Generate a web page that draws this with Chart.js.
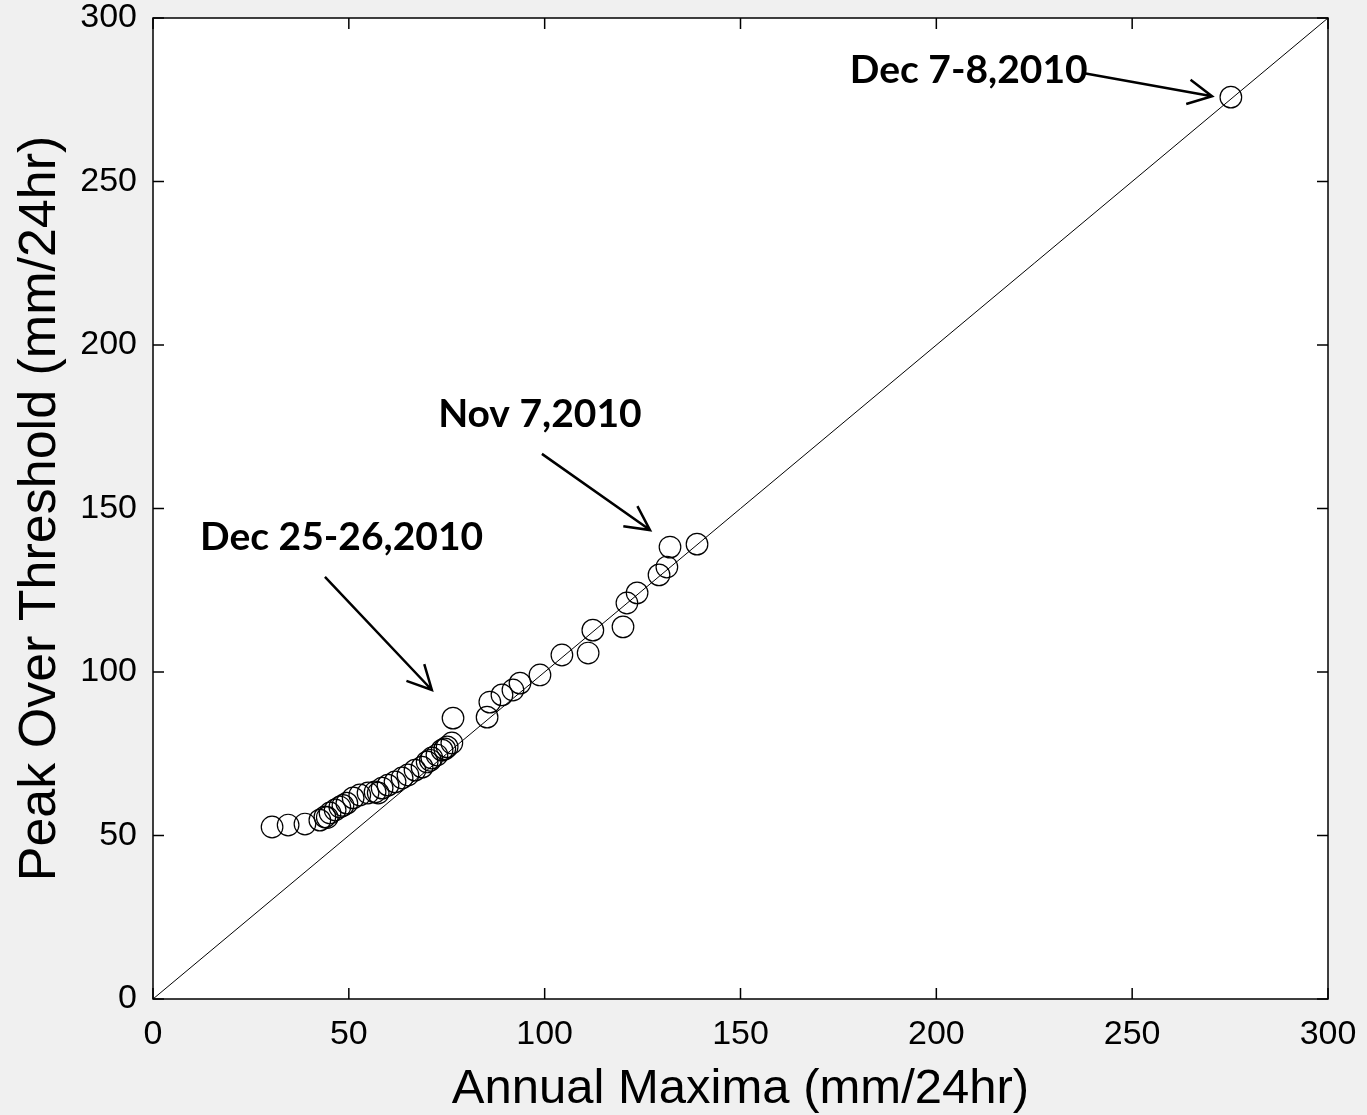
<!DOCTYPE html>
<html>
<head>
<meta charset="utf-8">
<script src="https://cdn.jsdelivr.net/npm/chart.js@4"></script>
<style>
  html, body { margin: 0; padding: 0; background: #f0f0f0; }
  canvas { display: block; }
</style>
</head>
<body>
<canvas id="c" width="1367" height="1115"></canvas>
<script>
// ---- data ----
const annualMaxima = [30.4, 34.5, 38.8, 42.6, 43.9, 44.5, 45.2, 46.5, 47.7, 48.5, 49.5, 51.1, 52.8, 54.9, 56.7, 57.5, 58.5, 60.0, 61.8, 63.6, 65.1, 66.9, 68.7, 70.0, 70.8, 71.2, 72.5, 73.8, 74.5, 75.1, 76.3, 76.6, 85.3, 86.0, 89.1, 91.9, 93.7, 98.8, 104.4, 111.1, 112.3, 120.0, 121.0, 123.6, 129.2, 131.2, 132.0, 138.9, 275.2];
const peakOverThreshold = [52.6, 53.2, 53.5, 54.7, 55.7, 55.5, 56.9, 57.8, 58.7, 59.2, 59.9, 61.5, 62.4, 63.0, 63.3, 63.0, 64.5, 65.4, 66.4, 67.6, 68.5, 70.0, 70.9, 72.5, 73.0, 73.7, 74.6, 76.1, 76.5, 77.1, 78.3, 85.9, 86.2, 90.8, 93.0, 94.5, 96.6, 99.1, 105.2, 105.8, 112.8, 113.8, 121.1, 124.2, 129.7, 132.1, 138.2, 139.1, 275.8];
const lineX = [0, 300];
const lineY = [0, 300];
const xTickValues = [0, 50, 100, 150, 200, 250, 300];
const yTickValues = [0, 50, 100, 150, 200, 250, 300];
const xTitle = 'Annual Maxima (mm/24hr)';
const yTitle = 'Peak Over Threshold (mm/24hr)';
const annotations = [
  { text: 'Dec 7-8,2010', tx: 177.9, ty: 284.1, fx: 237.4, fy: 283.2, ex: 270.4, ey: 276.1 },
  { text: 'Nov 7,2010', tx: 72.8, ty: 178.9, fx: 99.3, fy: 166.7, ex: 126.9, ey: 143.4 },
  { text: 'Dec 25-26,2010', tx: 12.0, ty: 141.3, fx: 43.9, fy: 129.1, ex: 71.2, ey: 94.5 }
];

const points = annualMaxima.map((x, i) => ({ x: x, y: peakOverThreshold[i] }));
const identity = lineX.map((x, i) => ({ x: x, y: lineY[i] }));
const FAMILY = "'Liberation Sans', Arial, sans-serif";

const framePlugin = {
  id: 'frame',
  beforeDraw(chart) {
    const { ctx, chartArea: a } = chart;
    ctx.save();
    ctx.fillStyle = '#f0f0f0';
    ctx.fillRect(0, 0, chart.width, chart.height);
    ctx.fillStyle = '#ffffff';
    ctx.fillRect(a.left, a.top, a.right - a.left, a.bottom - a.top);
    ctx.restore();
  },
  afterDatasetsDraw(chart) {
    const { ctx, chartArea: a, scales } = chart;
    const xs = scales.x, ys = scales.y;
    ctx.save();
    ctx.strokeStyle = '#000';
    ctx.lineWidth = 1.5;
    ctx.strokeRect(a.left, a.top, a.right - a.left, a.bottom - a.top);
    const tl = 11;
    ctx.beginPath();
    xTickValues.forEach(v => {
      const px = xs.getPixelForValue(v);
      ctx.moveTo(px, a.bottom); ctx.lineTo(px, a.bottom - tl);
      ctx.moveTo(px, a.top); ctx.lineTo(px, a.top + tl);
    });
    yTickValues.forEach(v => {
      const py = ys.getPixelForValue(v);
      ctx.moveTo(a.left, py); ctx.lineTo(a.left + tl, py);
      ctx.moveTo(a.right, py); ctx.lineTo(a.right - tl, py);
    });
    ctx.stroke();

    // annotations
    ctx.fillStyle = '#000';
    ctx.font = "bold 39px Lato, 'Liberation Sans', Arial, sans-serif";
    ctx.textBaseline = 'middle';
    ctx.textAlign = 'left';
    ctx.lineWidth = 2.5;
    ctx.lineCap = 'butt';
    annotations.forEach(an => {
      ctx.fillText(an.text, xs.getPixelForValue(an.tx), ys.getPixelForValue(an.ty));
      const x1 = xs.getPixelForValue(an.fx), y1 = ys.getPixelForValue(an.fy);
      const x2 = xs.getPixelForValue(an.ex), y2 = ys.getPixelForValue(an.ey);
      ctx.beginPath();
      ctx.moveTo(x1, y1); ctx.lineTo(x2, y2);
      const ang = Math.atan2(y2 - y1, x2 - x1);
      const hl = 27, ha = 27 * Math.PI / 180;
      ctx.moveTo(x2 - hl * Math.cos(ang - ha), y2 - hl * Math.sin(ang - ha));
      ctx.lineTo(x2, y2);
      ctx.lineTo(x2 - hl * Math.cos(ang + ha), y2 - hl * Math.sin(ang + ha));
      ctx.stroke();
    });
    ctx.restore();
  }
};

new Chart(document.getElementById('c'), {
  type: 'scatter',
  data: {
    datasets: [
      {
        type: 'line',
        data: identity,
        borderColor: '#000',
        borderWidth: 1,
        pointRadius: 0,
        fill: false,
        tension: 0
      },
      {
        type: 'scatter',
        data: points,
        pointStyle: 'circle',
        pointRadius: 10.8,
        pointHoverRadius: 10.8,
        borderColor: '#000',
        backgroundColor: 'rgba(0,0,0,0)',
        borderWidth: 1.2,
        showLine: false
      }
    ]
  },
  options: {
    responsive: false,
    animation: false,
    devicePixelRatio: 1,
    layout: { padding: { top: 18, right: 39, left: 0, bottom: 0 } },
    plugins: { legend: { display: false }, tooltip: { enabled: false } },
    scales: {
      x: {
        type: 'linear', min: 0, max: 300,
        afterBuildTicks(s) { s.ticks = xTickValues.map(v => ({ value: v })); },
        afterFit(s) { s.height = 116; s.paddingLeft = 0; s.paddingRight = 0; },
        grid: { display: false, drawTicks: false },
        border: { display: false },
        ticks: { color: '#000', padding: 15, autoSkip: false, maxRotation: 0,
                 font: { family: FAMILY, size: 34 } },
        title: { display: true, text: xTitle, color: '#000',
                 font: { family: FAMILY, size: 49, lineHeight: 1 },
                 padding: { top: 0, bottom: 1 } }
      },
      y: {
        type: 'linear', min: 0, max: 300,
        afterBuildTicks(s) { s.ticks = yTickValues.map(v => ({ value: v })); },
        afterFit(s) { s.width = 153; s.paddingTop = 0; s.paddingBottom = 0; },
        grid: { display: false, drawTicks: false },
        border: { display: false },
        ticks: { color: '#000', padding: 16, autoSkip: false,
                 font: { family: FAMILY, size: 34 } },
        title: { display: true, text: yTitle, color: '#000',
                 font: { family: FAMILY, size: 52, lineHeight: 1 },
                 padding: { top: 15, bottom: 0 } }
      }
    }
  },
  plugins: [framePlugin]
});
</script>
</body>
</html>
